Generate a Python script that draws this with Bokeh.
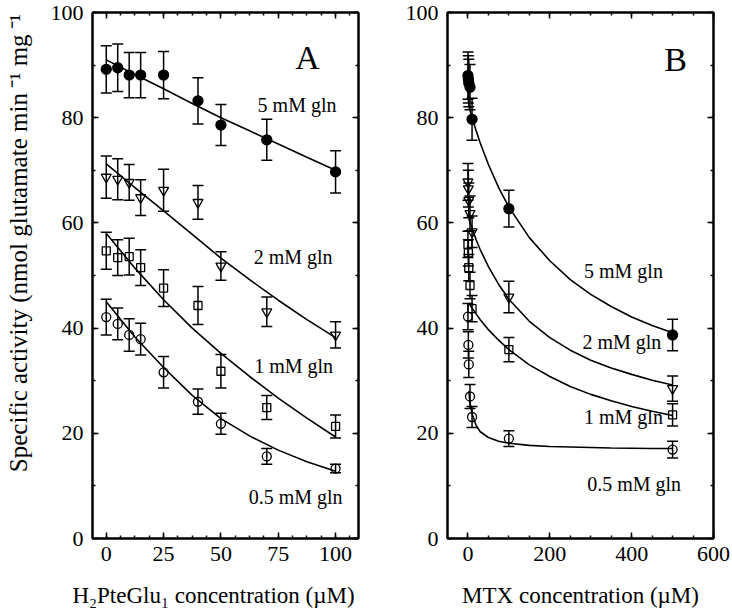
import math
from bokeh.plotting import figure
from bokeh.layouts import row, column
from bokeh.models import (ColumnDataSource, Whisker, TeeHead, Range1d, LinearAxis,
                          SingleIntervalTicker)
from bokeh.embed import file_html
from bokeh.resources import INLINE
from bokeh.core.properties import value

FONT = "Liberation Serif"

# ---------------- Panel A data (H2PteGlu1) ----------------
a_x = [0, 5, 10, 15, 25, 40, 50, 70, 100]
a5 = [89.2, 89.5, 88.1, 88.1, 88.1, 83.2, 78.6, 75.8, 69.7]
a5_err = [4.5, 4.5, 4.3, 4.3, 4.5, 4.4, 3.9, 3.9, 4.0]
a2 = [68.7, 68.3, 67.7, 64.8, 66.2, 63.9, 51.8, 43.1, 38.7]
a2_err = [4.0, 3.9, 3.4, 3.4, 4.0, 3.2, 2.7, 2.8, 2.5]
a1 = [54.7, 53.4, 53.6, 51.5, 47.6, 44.3, 31.8, 24.9, 21.3]
a1_err = [3.5, 3.4, 3.5, 3.4, 3.5, 3.6, 3.2, 2.3, 2.2]
a05 = [42.1, 40.8, 38.7, 37.9, 31.6, 26.0, 21.8, 15.6, 13.3]
a05_err = [3.4, 3.0, 3.1, 3.0, 3.0, 2.4, 2.0, 1.5, 0.8]

a_fit_x = [0, 12.5, 25, 37.5, 50, 62.5, 75, 87.5, 100]
a5_fit = [91.0, 88.2, 85.5, 82.7, 80.0, 77.5, 75.0, 72.5, 70.0]
a2_fit = [71.2, 66.7, 62.3, 57.8, 53.3, 49.2, 45.3, 41.6, 38.2]
a1_fit = [58.0, 51.4, 45.4, 40.0, 35.2, 30.8, 26.7, 22.9, 19.3]
a05_fit = [45.0, 38.3, 32.5, 27.2, 22.8, 19.5, 16.8, 14.6, 12.8]

a_lab_text = ["5 mM gln", "2 mM gln", "1 mM gln", "0.5 mM gln"]
a_lab_x = [83.2, 81.5, 81.7, 82.6]
a_lab_y = [82.4, 53.5, 32.8, 7.8]

# ---------------- Panel B data (MTX) ----------------
b_x = [0, 1, 2, 5, 10, 100, 500]
b5 = [88.0, 87.3, 86.6, 85.8, 79.7, 62.7, 38.7]
b5_err = [4.5, 4.5, 4.5, 4.3, 4.0, 3.5, 3.0]
b2 = [67.8, 66.5, 64.3, 61.8, 58.3, 45.9, 28.5]
b2_err = [3.5, 3.5, 3.3, 3.3, 3.0, 3.0, 2.4]
b1 = [55.9, 54.3, 51.5, 48.1, 43.7, 35.9, 23.5]
b1_err = [2.5, 2.5, 2.5, 2.5, 2.5, 2.3, 2.1]
b05 = [42.2, 36.8, 33.1, 27.0, 23.1, 19.0, 16.9]
b05_err = [2.5, 2.5, 2.5, 2.3, 2.0, 1.5, 1.6]

b_fit_x = [2, 5, 10, 20, 30, 50, 75, 100, 150, 200, 250, 300, 350, 400, 450, 500]
b5_fit = [82.2, 81.4, 80.0, 77.5, 75.2, 71.1, 66.7, 63.0, 57.2, 52.8, 49.2, 46.4, 44.1, 42.1, 40.5, 39.1]
b2_fit = [60.8, 60.1, 59.0, 56.8, 54.9, 51.7, 48.3, 45.5, 41.3, 38.2, 35.8, 33.9, 32.4, 31.2, 30.1, 29.2]
b1_fit = [44.8, 44.4, 43.8, 42.7, 41.6, 39.7, 37.7, 35.9, 33.0, 30.8, 28.9, 27.4, 26.2, 25.1, 24.2, 23.4]
b05_fit = [28.0, 25.9, 23.7, 21.5, 20.3, 19.2, 18.5, 18.1, 17.7, 17.5, 17.4, 17.3, 17.2, 17.15, 17.1, 17.1]

b_lab_text = ["5 mM gln", "2 mM gln", "1 mM gln", "0.5 mM gln"]
b_lab_x = [380, 376, 380, 406]
b_lab_y = [50.8, 37.3, 23.1, 10.3]

panel_letters = ["A", "B"]
letter_x = [87.8, 507.6]
letter_y = [91.4, 91.0]

y_label = "Specific activity (nmol glutamate min\u2009\u207b\u00b9 mg\u2009\u207b\u00b9\u2009)"
x_labels = ["H\u2082PteGlu\u2081 concentration (\u00b5M)", "MTX concentration (\u00b5M)"]
x_label_pos = [213, 580]


def style_axis(ax, labels=True):
    ax.axis_line_width = 2
    ax.major_tick_line_width = 1.5
    ax.minor_tick_line_width = 1.5
    ax.major_tick_in = 6
    ax.major_tick_out = 0
    ax.minor_tick_in = 3
    ax.minor_tick_out = 0
    ax.major_label_text_font = FONT
    if labels:
        ax.major_label_text_color = "black"
        ax.major_label_text_font_size = "22px"
        ax.major_label_standoff = 8
    else:
        ax.major_label_text_color = None
        ax.major_label_text_alpha = 0
        ax.major_label_text_font_size = "1px"
        ax.major_label_standoff = 0


def make_fig(xr, width, mbl, mbr, xint, xminor):
    p = figure(x_range=Range1d(*xr), y_range=Range1d(0, 100), width=width, height=578,
               min_border_left=mbl, min_border_right=mbr, min_border_top=12,
               min_border_bottom=40, output_backend="svg", toolbar_location=None)
    p.grid.visible = False
    p.outline_line_color = "black"
    p.outline_line_width = 2
    bottom = p.below[0]
    left = p.left[0]
    bottom.ticker = SingleIntervalTicker(interval=xint, num_minor_ticks=xminor)
    left.ticker = SingleIntervalTicker(interval=20, num_minor_ticks=2)
    style_axis(bottom)
    style_axis(left)
    left.major_label_standoff = 9
    top = LinearAxis(ticker=SingleIntervalTicker(interval=xint, num_minor_ticks=xminor))
    right = LinearAxis(ticker=SingleIntervalTicker(interval=20, num_minor_ticks=2))
    style_axis(top, labels=False)
    style_axis(right, labels=False)
    p.add_layout(top, "above")
    p.add_layout(right, "right")
    return p


def add_series(p, xs, ys, errs, marker, size, filled, lw=1.3):
    src = ColumnDataSource(dict(x=xs, y=ys,
                                up=[v + e for v, e in zip(ys, errs)],
                                lo=[v - e for v, e in zip(ys, errs)]))
    w = Whisker(source=src, base="x", upper="up", lower="lo", line_width=1.5,
                line_color="black",
                upper_head=TeeHead(size=11, line_width=1.5, line_color="black"),
                lower_head=TeeHead(size=11, line_width=1.5, line_color="black"))
    p.add_layout(w)
    p.scatter("x", "y", source=src, marker=marker, size=size,
              fill_color="black" if filled else None, line_color="black", line_width=lw)


def add_labels(p, xs, ys, texts):
    p.text(x=xs, y=ys, text=texts, text_font=value(FONT), text_font_size="20px",
           text_align="center", text_baseline="middle", text_color="black")


def strip(width, height):
    s = figure(width=width, height=height, x_range=Range1d(0, width),
               y_range=Range1d(0, height), min_border=0, x_axis_type=None,
               y_axis_type=None, output_backend="svg", toolbar_location=None)
    s.outline_line_color = None
    s.grid.visible = False
    return s


# ---------------- y-axis title strip ----------------
py = strip(40, 578)
py.text(x=[18], y=[578 - 246], text=[y_label], angle=math.pi / 2, text_font=value(FONT),
        text_font_size="25px", text_align="center", text_baseline="middle",
        text_color="black")

# ---------------- Panel A ----------------
pa = make_fig((-6, 110), 328, 52, 10, 25, 4)
for fy in (a5_fit, a2_fit, a1_fit, a05_fit):
    pa.line(a_fit_x, fy, line_color="black", line_width=1.6)
add_series(pa, a_x, a5, a5_err, "circle", 10, True)
add_series(pa, a_x, a2, a2_err, "inverted_triangle", 10, False)
add_series(pa, a_x, a1, a1_err, "square", 8, False)
add_series(pa, a_x, a05, a05_err, "circle", 9, False)
add_labels(pa, a_lab_x, a_lab_y, a_lab_text)
pa.text(x=letter_x[:1], y=letter_y[:1], text=panel_letters[:1],
        text_font=value(FONT), text_font_size="34px", text_align="center",
        text_baseline="middle", text_color="black")

# ---------------- Panel B ----------------
pb = make_fig((-50, 600), 364, 79, 19, 200, 4)
for fy in (b5_fit, b2_fit, b1_fit, b05_fit):
    pb.line(b_fit_x, fy, line_color="black", line_width=1.6)
add_series(pb, b_x, b5, b5_err, "circle", 10, True)
add_series(pb, b_x, b2, b2_err, "inverted_triangle", 10, False)
add_series(pb, b_x, b1, b1_err, "square", 8, False)
add_series(pb, b_x, b05, b05_err, "circle", 9, False)
add_labels(pb, b_lab_x, b_lab_y, b_lab_text)
pb.text(x=letter_x[1:], y=letter_y[1:], text=panel_letters[1:],
        text_font=value(FONT), text_font_size="34px", text_align="center",
        text_baseline="middle", text_color="black")

# ---------------- x-axis titles strip ----------------
px = strip(732, 34)
px.text(x=x_label_pos, y=[17, 17], text=x_labels, text_font=value(FONT),
        text_font_size="23px", text_align="center", text_baseline="middle",
        text_color="black")

layout = column(row(py, pa, pb), px)
open("out.html", "w").write(file_html(layout, INLINE))
